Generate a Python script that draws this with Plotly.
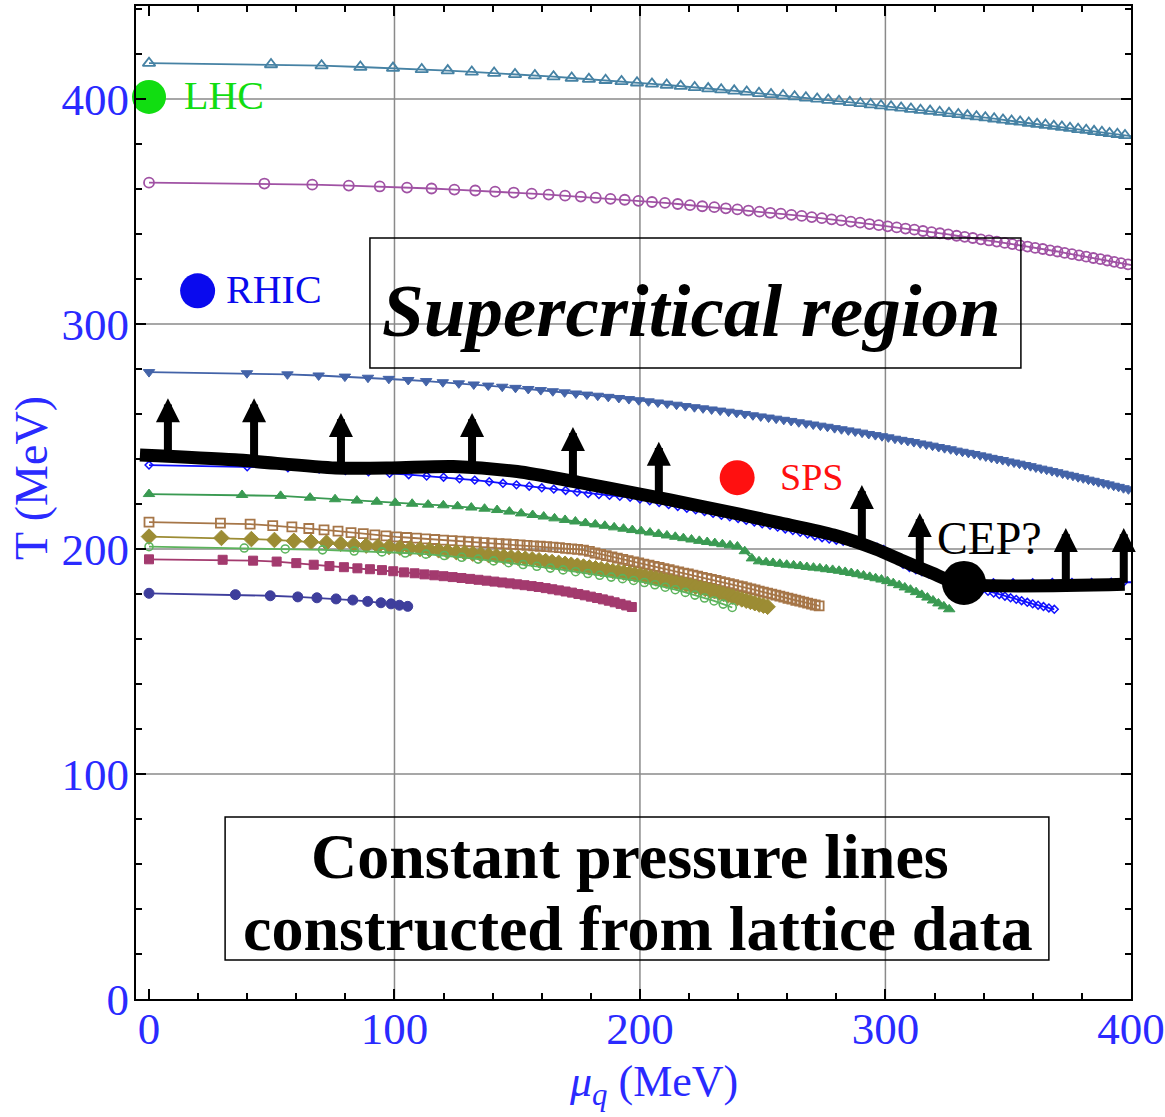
import plotly.graph_objects as go

# ---------------- data: constant-pressure lines T(mu_q) [MeV] ----------------
A_mu = [0, 49.7, 70.3, 86.1, 99.4, 111.1, 121.7, 131.5, 140.6, 149.1, 157.2, 164.8, 172.2, 179.2,
        186.0, 192.5, 198.8, 204.9, 210.9, 216.6, 222.3, 227.8, 233.1, 238.4, 243.5, 248.5, 253.4,
        258.3, 263.0, 267.6, 272.2, 276.7, 281.1, 285.5, 289.8, 294.0, 298.2, 302.3, 306.4, 310.4,
        314.3, 318.2, 322.1, 325.9, 329.7, 333.4, 337.1, 340.7, 344.3, 347.9, 351.4, 354.9, 358.4,
        361.8, 365.2, 368.6, 371.9, 375.2, 378.5, 381.8, 385.0, 388.2, 391.3, 394.5, 397.6, 400.7]
A_T = [415.9, 415.3, 414.8, 414.2, 413.7, 413.1, 412.6, 412.0, 411.5, 410.9, 410.4, 409.9, 409.3,
       408.8, 408.3, 407.8, 407.2, 406.7, 406.2, 405.7, 405.1, 404.6, 404.1, 403.6, 403.1, 402.5,
       402.0, 401.5, 401.0, 400.5, 400.0, 399.5, 399.0, 398.5, 398.0, 397.5, 397.0, 396.5, 396.0,
       395.5, 395.0, 394.6, 394.1, 393.6, 393.1, 392.6, 392.1, 391.7, 391.2, 390.7, 390.2, 389.8,
       389.3, 388.8, 388.4, 387.9, 387.5, 387.0, 386.5, 386.1, 385.6, 385.2, 384.7, 384.3, 383.8, 383.4]

B_mu = [0, 47.0, 66.5, 81.4, 94.0, 105.1, 115.1, 124.4, 132.9, 141.0, 148.6, 155.9, 162.8, 169.5,
        175.9, 182.0, 188.0, 193.8, 199.4, 204.9, 210.2, 215.4, 220.4, 225.4, 230.3, 235.0, 239.7,
        244.2, 248.7, 253.1, 257.4, 261.7, 265.9, 270.0, 274.1, 278.1, 282.0, 285.9, 289.7, 293.5,
        297.3, 300.9, 304.6, 308.2, 311.8, 315.3, 318.8, 322.2, 325.6, 329.0, 332.3, 335.6, 338.9,
        342.2, 345.4, 348.6, 351.7, 354.8, 357.9, 361.0, 364.1, 367.1, 370.1, 373.0, 376.0, 378.9,
        381.8, 384.7, 387.6, 390.4, 393.2, 396.0, 398.8, 401.6]
B_T = [362.8, 362.4, 361.9, 361.5, 361.1, 360.6, 360.2, 359.7, 359.3, 358.8, 358.4, 357.9, 357.5,
       357.0, 356.6, 356.1, 355.6, 355.2, 354.7, 354.2, 353.8, 353.3, 352.8, 352.3, 351.9, 351.4,
       350.9, 350.4, 349.9, 349.4, 349.0, 348.5, 348.0, 347.5, 347.0, 346.5, 346.0, 345.5, 345.0,
       344.4, 343.9, 343.4, 342.9, 342.4, 341.9, 341.3, 340.8, 340.3, 339.8, 339.2, 338.7, 338.2,
       337.6, 337.1, 336.6, 336.0, 335.5, 334.9, 334.4, 333.8, 333.3, 332.7, 332.2, 331.6, 331.0,
       330.5, 329.9, 329.3, 328.8, 328.2, 327.6, 327.0, 326.5, 325.9]

C_mu = [0, 39.9, 56.4, 69.1, 79.8, 89.2, 97.7, 105.6, 112.9, 119.7,
        126.2, 132.3, 138.2, 143.9, 149.3, 154.5, 159.6, 164.5, 169.3, 173.9,
        178.4, 182.8, 187.1, 191.4, 195.5, 199.5, 203.5, 207.3, 211.1, 214.9,
        218.5, 222.2, 225.7, 229.2, 232.7, 236.1, 239.4, 242.7, 246.0, 249.2,
        252.4, 255.5, 258.6, 261.6, 264.7, 267.7, 270.6, 273.5, 276.4, 279.3,
        282.1, 284.9, 287.7, 290.5, 293.2, 295.9, 298.6, 301.2, 303.9, 306.5,
        309.1, 311.6, 314.2, 316.7, 319.2, 321.7, 324.1, 326.6, 329.0, 331.4,
        333.8, 336.2, 338.6, 340.9, 343.2, 345.5, 347.8, 350.1, 352.4, 354.6,
        356.9, 359.1, 361.3, 363.5, 365.7, 367.9, 370.0, 372.2, 374.3, 376.4,
        378.5, 380.6, 382.7, 384.8, 386.8, 388.9, 390.9, 393.0, 395.0, 397.0, 399.0]
C_T = [278.6, 278.1, 277.6, 277.1, 276.6, 276.1, 275.6, 275.1, 274.6, 274.1,
       273.6, 273.1, 272.6, 272.1, 271.6, 271.1, 270.6, 270.1, 269.6, 269.1,
       268.6, 268.1, 267.6, 267.1, 266.6, 266.1, 265.6, 265.1, 264.6, 264.1,
       263.5, 263.0, 262.5, 262.0, 261.5, 261.0, 260.5, 260.0, 259.4, 258.9,
       258.4, 257.9, 257.4, 256.9, 256.3, 255.8, 255.3, 254.8, 254.3, 253.7,
       253.2, 252.7, 252.2, 251.7, 251.1, 250.6, 250.1, 249.6, 249.0, 248.5,
       248.0, 247.5, 246.9, 246.4, 245.9, 245.3, 244.8, 244.3, 243.7, 243.2,
       242.7, 242.2, 241.6, 241.1, 240.5, 240.0, 239.5, 238.9, 238.4, 237.9,
       237.3, 236.8, 236.2, 235.7, 235.2, 234.6, 234.1, 233.5, 233.0, 232.5,
       231.9, 231.4, 230.8, 230.3, 229.7, 229.2, 228.7, 228.1, 227.6, 227.0, 226.5]

D_mu = [0, 40.0, 56.6, 69.3, 80.0, 89.4, 98.0, 105.8, 113.1, 120.0, 126.5, 132.7, 138.6, 144.2,
        149.7, 154.9, 160.0, 164.9, 169.7, 174.4, 178.9, 183.3, 187.6, 191.8, 196.0, 200.0, 204.0,
        207.8, 211.7, 215.4, 219.1, 222.7, 226.3, 229.8, 233.2, 236.6, 240.0, 243.3, 246.6, 249.8,
        253.0, 256.1, 259.2, 262.3, 265.3, 268.3, 271.3, 274.2, 277.1, 280.0, 282.8, 285.7, 288.4,
        291.2, 294.0, 296.6, 299.3, 302.0, 304.6, 307.2, 309.8, 312.4, 314.9, 317.5, 320.0, 322.5,
        325.0, 327.4, 329.8, 332.3, 334.7, 337.1, 339.4, 341.8, 344.1, 346.4, 348.7, 351.0, 353.3,
        355.5, 357.8, 360.0, 362.2, 364.4, 366.6, 368.8]
D_T = [237.3, 236.5, 236.1, 235.5, 234.9, 234.3, 233.6, 233.0, 232.4, 231.9, 231.2, 230.6, 229.9,
       229.2, 228.5, 227.9, 227.2, 226.6, 226.0, 225.3, 224.6, 224.2, 223.8, 223.4, 223.0, 222.2,
       221.4, 220.6, 219.7, 218.9, 218.1, 217.4, 216.6, 215.8, 215.0, 214.3, 213.5, 212.7, 212.0,
       211.2, 210.5, 209.7, 208.9, 208.2, 207.4, 206.6, 205.8, 205.0, 204.4, 203.9, 203.4, 203.0,
       202.6, 202.1, 201.5, 200.8, 199.8, 198.0, 195.5, 193.2, 191.8, 190.8, 189.9, 189.0, 188.2,
       187.4, 186.6, 185.8, 185.0, 184.2, 183.4, 182.6, 181.9, 181.2, 180.4, 179.7, 179.0, 178.3,
       177.6, 177.0, 176.3, 175.6, 175.0, 174.4, 173.8, 173.2]
D2_mu = [336.0, 344.0, 352.0, 360.0, 368.0, 376.0, 384.0, 392.0, 397.0, 400.5]
D2_T = [185.0, 185.0, 185.0, 185.0, 185.1, 185.1, 185.1, 185.2, 185.2, 185.2]

E_mu = [0, 37.9, 53.6, 65.6, 75.8, 84.7, 92.8, 100.3, 107.2, 113.7, 119.9, 125.7, 131.3, 136.7,
        141.8, 146.8, 151.6, 156.3, 160.8, 165.2, 169.5, 173.7, 177.8, 181.8, 185.7, 189.5, 193.3,
        196.9, 200.5, 204.1, 207.6, 211.0, 214.4, 217.7, 221.0, 224.2, 227.4, 230.5, 233.6, 236.7,
        239.7, 242.7, 245.6, 248.5, 251.4, 254.2, 257.0, 259.8, 262.6, 265.3, 268.0, 270.7, 273.3,
        275.9, 278.5, 281.1, 283.6, 286.1, 288.6, 291.1, 293.6, 296.0, 298.4, 300.8, 303.2, 305.6,
        307.9, 310.2, 312.5, 314.8, 317.1, 319.4, 321.6, 323.8, 326.0]
E_T = [224.4, 224.0, 223.6, 222.8, 222.1, 221.5, 221.0, 220.5, 220.1, 219.7, 219.4, 219.0, 218.4,
       217.9, 217.3, 216.6, 215.8, 215.1, 214.4, 213.6, 212.9, 212.2, 211.5, 210.9, 210.3, 209.6,
       209.0, 208.4, 207.9, 207.3, 206.7, 206.0, 205.4, 204.8, 204.2, 203.6, 203.1, 202.6, 202.1,
       201.6, 201.1, 199.0, 195.8, 194.5, 194.1, 193.8, 193.4, 193.0, 192.7, 192.4, 192.0, 191.7,
       191.4, 191.0, 190.7, 190.3, 189.8, 189.3, 188.8, 188.2, 187.6, 187.0, 186.4, 185.7, 184.8,
       183.9, 182.9, 181.9, 180.8, 179.6, 178.4, 177.1, 175.8, 174.5, 173.2]

F_mu = [0, 29.1, 41.2, 50.4, 58.2, 65.1, 71.3, 77.0, 82.3, 87.3, 92.0, 96.5, 100.8, 104.9, 108.9,
        112.7, 116.4, 120.0, 123.5, 126.8, 130.1, 133.4, 136.5, 139.6, 142.6, 145.5, 148.4, 151.2,
        154.0, 156.7, 159.4, 162.0, 164.6, 167.2, 169.7, 172.2, 174.6, 177.0, 179.4, 181.7, 184.0,
        186.3, 188.6, 190.8, 193.0, 195.2, 197.4, 199.5, 201.6, 203.7, 205.8, 207.8, 209.8, 211.9,
        213.8, 215.8, 217.8, 219.7, 221.6, 223.5, 225.4, 227.3, 229.1, 231.0, 232.8, 234.6, 236.4,
        238.2, 240.0, 241.7, 243.5, 245.2, 246.9, 248.6, 250.3, 252.0, 253.7, 255.4, 257.0, 258.6,
        260.3, 261.9, 263.5, 265.1, 266.7, 268.3, 269.9, 271.4, 273.0]
F_T = [211.9, 211.5, 211.0, 210.4, 209.8, 209.1, 208.5, 207.9, 207.3, 206.8,
       206.3, 205.8, 205.4, 205.1, 204.8, 204.5, 204.2, 203.9, 203.7, 203.5,
       203.2, 203.0, 202.8, 202.6, 202.4, 202.2, 202.0, 201.8, 201.6, 201.4,
       201.2, 201.0, 200.8, 200.6, 200.3, 200.0, 199.8, 199.5, 198.9, 198.2,
       197.6, 197.0, 196.5, 195.9, 195.4, 194.8, 194.3, 193.8, 193.3, 192.8,
       192.3, 191.8, 191.3, 190.8, 190.3, 189.8, 189.3, 188.9, 188.4, 187.9,
       187.4, 186.9, 186.5, 186.0, 185.5, 185.0, 184.6, 184.1, 183.6, 183.2,
       182.7, 182.2, 181.8, 181.3, 180.8, 180.4, 179.9, 179.5, 179.0, 178.6,
       178.1, 177.7, 177.2, 176.8, 176.4, 175.9, 175.5, 175.1, 174.7]

G_mu = [0, 29.5, 41.7, 51.1, 59.0, 66.0, 72.3, 78.1, 83.4, 88.5, 93.3, 97.8, 102.2, 106.4, 110.4,
        114.3, 118.0, 121.6, 125.2, 128.6, 131.9, 135.2, 138.4, 141.5, 144.5, 147.5, 150.4, 153.3,
        156.1, 158.9, 161.6, 164.2, 166.9, 169.5, 172.0, 174.5, 177.0, 179.4, 181.9, 184.2, 186.6,
        188.9, 191.2, 193.4, 195.7, 197.9, 200.1, 202.2, 204.4, 206.5, 208.6, 210.7, 212.7, 214.8,
        216.8, 218.8, 220.8, 222.7, 224.7, 226.6, 228.5, 230.4, 232.3, 234.1, 236.0, 237.8, 239.7,
        241.5, 243.3, 245.0, 246.8, 248.6, 250.3, 252.0]
G_T = [205.5, 204.9, 204.4, 204.0, 203.6, 203.2, 202.8, 202.3, 201.9, 201.5, 201.2, 200.9, 200.6,
       200.3, 200.0, 199.7, 199.4, 199.0, 198.6, 198.3, 197.9, 197.6, 197.2, 196.9, 196.6, 196.3,
       196.0, 195.7, 195.4, 195.0, 194.6, 194.2, 193.8, 193.4, 193.0, 192.6, 192.2, 191.8, 191.4,
       191.0, 190.6, 190.2, 189.9, 189.5, 189.1, 188.7, 188.3, 187.8, 187.3, 186.9, 186.4, 185.9,
       185.5, 185.0, 184.6, 184.1, 183.7, 183.2, 182.7, 182.2, 181.7, 181.2, 180.6, 180.0, 179.4,
       178.8, 178.2, 177.6, 177.0, 176.5, 175.9, 175.3, 174.8, 174.3]

H_mu = [0, 38.8, 55.5, 70.7, 83.6, 94.9, 104.4, 112.8, 120.3, 127.4, 134.1, 140.4, 146.5, 152.4,
        158.0, 163.5, 168.7, 173.8, 178.8, 183.6, 188.3, 192.9, 197.4, 201.8, 206.1, 210.3, 214.4,
        218.5, 222.4, 226.3, 230.2, 233.9, 237.6]
H_T = [201.0, 200.4, 200.0, 199.6, 199.1, 198.7, 198.2, 197.7, 197.1, 196.3, 195.5, 194.7, 193.9,
       193.1, 192.3, 191.5, 190.7, 189.9, 189.1, 188.3, 187.5, 186.8, 186.0, 185.1, 184.1, 183.0,
       181.9, 180.7, 179.5, 178.2, 176.9, 175.5, 174.0]

I_mu = [0, 30.0, 42.4, 52.0, 60.0, 67.1, 73.5, 79.4, 84.9, 90.0, 94.9, 99.5, 103.9, 108.2, 112.2,
        116.2, 120.0, 123.7, 127.3, 130.8, 134.2, 137.5, 140.7, 143.9, 147.0, 150.0, 153.0, 155.9,
        158.7, 161.6, 164.3, 167.0, 169.7, 172.3, 174.9, 177.5, 180.0, 182.5, 184.9, 187.3, 189.7,
        192.1, 194.4, 196.7]
I_T = [195.4, 195.2, 194.8, 194.4, 193.7, 193.0, 192.4, 191.9, 191.4, 191.0, 190.6, 190.1, 189.6,
       189.2, 188.7, 188.3, 187.9, 187.5, 187.1, 186.7, 186.3, 185.9, 185.5, 185.1, 184.7, 184.3,
       183.9, 183.5, 183.1, 182.6, 182.1, 181.6, 181.1, 180.6, 180.0, 179.4, 178.8, 178.2, 177.6,
       177.0, 176.3, 175.6, 174.9, 174.2]

J_mu = [0, 35.2, 49.4, 60.6, 68.4, 76.2, 83.0, 89.1, 94.5, 98.6, 102.0, 105.4]
J_T = [180.3, 179.7, 179.2, 178.7, 178.3, 177.8, 177.3, 176.7, 176.1, 175.6, 175.0, 174.5]

# crossover / transition line (thick black) and its "supercritical" arrows
LINE_mu = [-3.7, 35, 76, 99, 124, 150, 175, 200, 224, 257, 279, 296, 307, 319, 330, 397.5]
LINE_T = [241.8, 239.6, 236.0, 236.0, 236.6, 234.4, 229.6, 224.4, 219.2, 211.6, 206.2, 200.0,
          194.8, 189.3, 184.6, 184.3]
ARROW_mu = [7.7, 42.8, 78.2, 131.6, 172.7, 207.7, 290.4, 314.0, 373.5, 397.1]
ARROW_tip = [267.0, 267.0, 260.4, 260.4, 254.2, 247.6, 228.4, 216.0, 209.3, 209.3]
ARROW_base = [241.3, 239.0, 236.0, 236.3, 230.1, 222.7, 202.5, 191.3, 184.3, 184.3]

# collider points and the critical end point
POINT_names = ["LHC", "RHIC", "SPS", "CEP?"]
POINT_mu = [0.0, 19.8, 239.6, 332.0]
POINT_T = [400.9, 314.7, 231.7, 184.9]

X_TICKS = [0, 100, 200, 300, 400]
Y_TICKS = [0, 100, 200, 300, 400]
X_GRID = [100, 200, 300]
Y_GRID = [100, 200, 300, 400]

SERIF = "Liberation Serif"
AXIS_BLUE = "#2a2aff"

fig = go.Figure()

# gridlines (only interior major values)
shapes = []
for gx in X_GRID:
    shapes.append(dict(type="line", xref="x", yref="paper", x0=gx, x1=gx, y0=0, y1=1,
                       line=dict(color="#8a8a8a", width=1.5), layer="below"))
for gy in Y_GRID:
    shapes.append(dict(type="line", xref="paper", yref="y", x0=0, x1=1, y0=gy, y1=gy,
                       line=dict(color="#8a8a8a", width=1.5), layer="below"))

# (x, y, symbol, size, colour, marker outline width)
series = [
    (A_mu, A_T, "triangle-up-open", 11, "#4682a4", 1.8),
    (B_mu, B_T, "circle-open", 10, "#a052a4", 1.8),
    (C_mu, C_T, "triangle-down", 10, "#4363a8", 1.0),
    (D_mu, D_T, "diamond-open", 6, "#1010ff", 1.5),
    (D2_mu, D2_T, "diamond-open", 6, "#1010ff", 1.5),
    (E_mu, E_T, "triangle-up", 10, "#3a9a52", 1.0),
    (F_mu, F_T, "square-open", 9, "#a67648", 1.8),
    (G_mu, G_T, "diamond", 12, "#9c8c34", 1.0),
    (H_mu, H_T, "circle-open", 8, "#5cb35c", 1.6),
    (I_mu, I_T, "square", 9, "#a33a6e", 1.0),
    (J_mu, J_T, "circle", 10, "#3e3e9c", 1.0),
]
for mu, T, sym, size, col, mlw in series:
    fig.add_trace(go.Scatter(
        x=mu, y=T, mode="lines+markers",
        line=dict(color=col, width=1.8),
        marker=dict(symbol=sym, size=size, color=col, opacity=1, line=dict(color=col, width=mlw)),
        hoverinfo="skip", showlegend=False))

# thick transition line
fig.add_trace(go.Scatter(x=LINE_mu, y=LINE_T, mode="lines",
                         line=dict(color="black", width=13, shape="spline", smoothing=0.7),
                         hoverinfo="skip", showlegend=False))

# big labelled dots
DOT_colors = ["#11dd11", "#0a0aee", "#ff1010", "black"]
DOT_sizes = [34, 35, 35, 44]
fig.add_trace(go.Scatter(x=POINT_mu, y=POINT_T, mode="markers",
                         marker=dict(size=DOT_sizes, color=DOT_colors, opacity=1, line=dict(width=0)),
                         cliponaxis=False, hoverinfo="skip", showlegend=False))

annotations = []
for xm, tip, base in zip(ARROW_mu, ARROW_tip, ARROW_base):
    annotations.append(dict(x=xm, y=tip, ax=xm, ay=base, xref="x", yref="y", axref="x", ayref="y",
                            text="", showarrow=True, arrowhead=2, arrowsize=0.6, arrowwidth=8,
                            arrowcolor="black"))

# dot labels
label_pos = [(13.4, 401.5, "#11dd11", 40), (30.5, 315.5, "#0a0aee", 40),
             (256.2, 232.1, "#ff1010", 38), (320.2, 204.7, "black", 46)]
for name, (lx, ly, lc, fs) in zip(POINT_names, label_pos):
    annotations.append(dict(x=lx, y=ly, xref="x", yref="y", text=name, showarrow=False,
                            xanchor="left", yanchor="middle",
                            font=dict(family=SERIF, size=fs, color=lc)))

# boxed captions
shapes.append(dict(type="rect", xref="x", yref="y", x0=90.0, x1=355.2, y0=280.4, y1=338.2,
                   line=dict(color="black", width=1.5), fillcolor="rgba(0,0,0,0)", layer="above"))
shapes.append(dict(type="rect", xref="x", yref="y", x0=31.0, x1=366.6, y0=17.3, y1=80.9,
                   line=dict(color="black", width=1.5), fillcolor="rgba(0,0,0,0)", layer="above"))
annotations.append(dict(x=221.0, y=306.2, xref="x", yref="y", showarrow=False,
                        text="<b><i>Supercritical region</i></b>",
                        font=dict(family=SERIF, size=75, color="black")))
annotations.append(dict(x=196.1, y=63.4, xref="x", yref="y", showarrow=False,
                        text="<b>Constant pressure lines</b>",
                        font=dict(family=SERIF, size=64, color="black")))
annotations.append(dict(x=199.2, y=31.4, xref="x", yref="y", showarrow=False,
                        text="<b>constructed from lattice data</b>",
                        font=dict(family=SERIF, size=64, color="black")))

# axis titles
annotations.append(dict(x=0.5206, y=-0.0866, xref="paper", yref="paper", showarrow=False,
                        xanchor="center", yanchor="middle",
                        text="<i>μ</i><sub><i>q</i></sub> (MeV)",
                        font=dict(family=SERIF, size=44, color=AXIS_BLUE)))
annotations.append(dict(x=-0.1045, y=0.5247, xref="paper", yref="paper", showarrow=False,
                        xanchor="center", yanchor="middle",
                        text="T (MeV)", textangle=-90,
                        font=dict(family=SERIF, size=46, color=AXIS_BLUE)))

axis_common = dict(showgrid=False, zeroline=False, showline=True, linecolor="black", linewidth=2,
                   mirror="ticks", ticks="inside", ticklen=10, tickwidth=1.5, tickcolor="black",
                   minor=dict(dtick=20, ticks="inside", ticklen=6, tickwidth=1.5,
                              tickcolor="black", showgrid=False),
                   tickfont=dict(family=SERIF, size=45, color=AXIS_BLUE),
                   ticklabeloverflow="allow", automargin=False)

fig.update_xaxes(range=[-5.3, 400.05], tickvals=X_TICKS, ticktext=[str(v) for v in X_TICKS],
                 ticklabelstandoff=-11, **axis_common)
fig.update_yaxes(range=[0, 441.3], tickvals=Y_TICKS, ticktext=[str(v) for v in Y_TICKS],
                 ticklabelstandoff=-4, **axis_common)

fig.update_layout(width=1165, height=1117, margin=dict(l=136, r=34, t=6, b=118),
                  paper_bgcolor="white", plot_bgcolor="white",
                  shapes=shapes, annotations=annotations, showlegend=False)

fig.write_html("out.html")
